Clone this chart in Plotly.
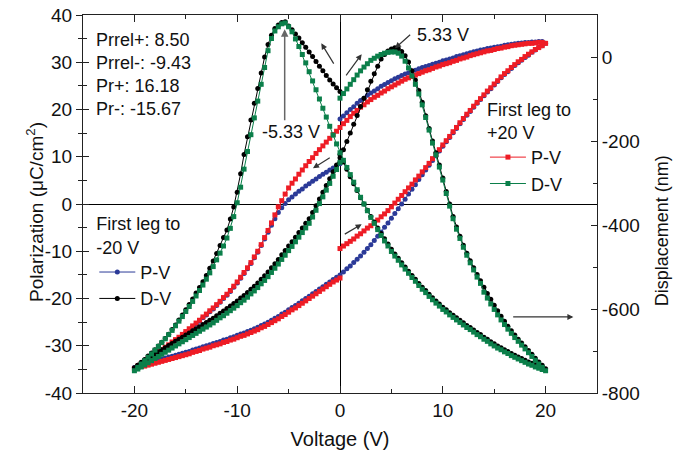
import numpy as np
import plotly.graph_objects as go

STEP_PER_V = 3  # measurement step 1/3 V

def sweep(a, b):
    n = int(round(abs(b - a) * STEP_PER_V)) + 1
    return np.linspace(a, b, n)

# ---------------- tick labels ----------------
x_ticks = [-20, -10, 0, 10, 20]
x_ticklabels = ["-20", "-10", "0", "10", "20"]
p_ticks = [-40, -30, -20, -10, 0, 10, 20, 30, 40]
p_ticklabels = ["-40", "-30", "-20", "-10", "0", "10", "20", "30", "40"]
d_ticks = [-800, -600, -400, -200, 0]
d_ticklabels = ["-800", "-600", "-400", "-200", "0"]

# ---------------- Polarization (uC/cm2) ----------------
# first leg to -20 V (blue): 0 -> -20 -> +20 -> 0
blue_start_p = [8.5, 8.1, 7.6, 7.2, 6.7, 6.3, 5.8, 5.3, 4.8, 4.3, 3.8, 3.2, 2.7, 2.1, 1.5,
                0.9, 0.1, -0.8, -1.8, -3.1, -4.5, -6.0, -7.4, -8.8, -10.2, -11.4, -12.6,
                -13.7, -14.7, -15.7, -16.7, -17.6, -18.5, -19.3, -20.0, -20.8, -21.5, -22.2,
                -22.8, -23.5, -24.1, -24.8, -25.4, -26.0, -26.6, -27.2, -27.8, -28.4, -28.9,
                -29.4, -30.0, -30.5, -31.0, -31.5, -32.0, -32.5, -33.0, -33.5, -33.9, -34.3, -34.6]
lower_p = [-34.4, -34.2, -34.0, -33.8, -33.6, -33.4, -33.2, -33.0, -32.8, -32.6, -32.4, -32.2,
           -32.0, -31.8, -31.6, -31.4, -31.2, -30.9, -30.7, -30.5, -30.2, -30.0, -29.8, -29.5,
           -29.3, -29.1, -28.8, -28.6, -28.3, -28.1, -27.8, -27.5, -27.3, -27.0, -26.7, -26.4,
           -26.1, -25.7, -25.4, -25.0, -24.6, -24.2, -23.8, -23.3, -22.9, -22.4, -21.9, -21.5,
           -21.0, -20.5, -20.0, -19.5, -19.0, -18.5, -18.0, -17.5, -17.0, -16.5, -16.0, -15.5,
           -15.0, -14.4, -13.7, -13.1, -12.4, -11.7, -11.0, -10.2, -9.4, -8.6, -7.7, -6.8,
           -5.9, -4.9, -4.0, -3.0, -2.0, -1.0, 0.0, 1.0, 2.1, 3.1, 4.1, 5.2,
           6.2, 7.2, 8.2, 9.2, 10.2, 11.2, 12.2, 13.2, 14.1, 15.1, 16.0, 17.0,
           17.9, 18.8, 19.6, 20.5, 21.3, 22.1, 22.9, 23.7, 24.4, 25.2, 25.9, 26.7,
           27.4, 28.0, 28.7, 29.3, 29.9, 30.4, 31.0, 31.5, 32.1, 32.6, 33.1, 33.5, 34.0]
blue_upper_p = [34.5, 34.4, 34.4, 34.3, 34.3, 34.2, 34.2, 34.1, 34.0, 33.9, 33.8, 33.7,
                33.6, 33.4, 33.3, 33.2, 33.0, 32.9, 32.7, 32.6, 32.4, 32.2, 32.0, 31.8,
                31.6, 31.4, 31.2, 30.9, 30.7, 30.5, 30.3, 30.0, 29.8, 29.6, 29.3, 29.1,
                28.9, 28.6, 28.3, 28.1, 27.8, 27.5, 27.2, 26.8, 26.5, 26.1, 25.7, 25.3,
                24.9, 24.4, 23.9, 23.5, 23.0, 22.4, 21.9, 21.3, 20.6, 20.0, 19.3, 18.6, 18.0]

# first leg to +20 V (red): 0 -> +20 -> -20 -> 0
red_start_p = [-9.43, -8.9, -8.4, -7.9, -7.4, -6.8, -6.3, -5.7, -5.1, -4.6, -4.0, -3.4,
               -2.7, -2.1, -1.4, -0.6, 0.2, 1.0, 1.8, 2.6, 3.4, 4.2, 5.1, 5.9,
               6.8, 7.7, 8.6, 9.6, 10.5, 11.5, 12.5, 13.4, 14.3, 15.3, 16.2, 17.2,
               18.1, 19.0, 19.8, 20.7, 21.5, 22.3, 23.1, 23.9, 24.6, 25.4, 26.1, 26.9,
               27.6, 28.2, 28.9, 29.5, 30.1, 30.6, 31.2, 31.7, 32.2, 32.7, 33.1, 33.5, 34.0]
upper_p = [34.3, 34.2, 34.2, 34.1, 34.0, 34.0, 33.9, 33.8, 33.7, 33.6, 33.5, 33.3,
           33.2, 33.0, 32.9, 32.7, 32.5, 32.4, 32.2, 32.0, 31.8, 31.6, 31.4, 31.1,
           30.9, 30.7, 30.4, 30.2, 29.9, 29.7, 29.5, 29.2, 29.0, 28.7, 28.4, 28.2,
           27.9, 27.6, 27.3, 27.0, 26.7, 26.4, 26.0, 25.6, 25.2, 24.8, 24.4, 23.9,
           23.5, 23.0, 22.6, 22.1, 21.6, 21.0, 20.5, 19.8, 19.2, 18.5, 17.7, 17.0,
           16.2, 15.4, 14.7, 13.9, 13.1, 12.3, 11.5, 10.7, 9.8, 9.0, 8.1, 7.2,
           6.3, 5.3, 4.4, 3.4, 2.1, 0.7, -0.6, -2.3, -4.0, -5.6, -7.1, -8.6,
           -10.0, -11.2, -12.4, -13.5, -14.5, -15.5, -16.5, -17.4, -18.3, -19.1, -19.8, -20.6,
           -21.3, -22.0, -22.6, -23.3, -23.9, -24.6, -25.2, -25.8, -26.4, -27.0, -27.6, -28.2,
           -28.7, -29.2, -29.8, -30.3, -30.8, -31.3, -31.8, -32.3, -32.8, -33.3, -33.8, -34.3, -34.8]
red_lower_p = [-34.8, -34.6, -34.4, -34.3, -34.1, -33.9, -33.7, -33.5, -33.3, -33.1, -32.9, -32.7,
               -32.5, -32.3, -32.1, -31.9, -31.7, -31.4, -31.2, -31.0, -30.7, -30.5, -30.3, -30.0,
               -29.8, -29.6, -29.3, -29.1, -28.8, -28.6, -28.3, -28.0, -27.8, -27.5, -27.2, -26.9,
               -26.6, -26.2, -25.9, -25.5, -25.1, -24.7, -24.3, -23.8, -23.4, -22.9, -22.4, -22.0,
               -21.5, -21.0, -20.5, -20.0, -19.5, -19.0, -18.5, -18.0, -17.5, -17.0, -16.5, -16.1, -15.67]

# ---------------- Displacement (nm) ----------------
# first leg to -20 V (black): 0 -> -20 -> +20 -> 0
black_start_d = [-82, -73, -64, -55, -44, -33, -22, -11, 1, 12, 23, 34, 45, 55, 65,
                 74, 84, 82, 76, 68, 52, 30, 0, -38, -75, -110, -150, -190, -232, -278,
                 -322, -357, -386, -412, -430, -449, -468, -486, -503, -520, -535, -549,
                 -562, -576, -589, -602, -614, -626, -638, -649, -660, -670, -679, -688,
                 -697, -705, -712, -720, -727, -734, -740]
black_mid_d = [-740, -734, -728, -722, -717, -712, -707, -702, -697, -692, -687, -682,
               -677, -672, -667, -662, -657, -652, -647, -642, -637, -632, -627, -622,
               -616, -610, -605, -599, -593, -587, -581, -574, -568, -561, -553, -546,
               -538, -529, -521, -512, -502, -492, -482, -471, -461, -450, -440, -429,
               -418, -407, -396, -385, -370, -354, -338, -322, -306, -290, -273, -257,
               -240, -221, -201, -181, -160, -139, -118, -98, -78, -58, -40, -22,
               -5, 6, 14, 19, 22, 20, 13, 3, -12, -33, -55, -80,
               -108, -140, -170, -200, -228, -257, -288, -320, -350, -380, -405, -427,
               -448, -467, -485, -502, -518, -533, -548, -563, -577, -591, -604, -617,
               -629, -641, -652, -662, -672, -681, -690, -699, -708, -717, -726, -734, -742]
black_ret_d = [-742, -739, -736, -733, -729, -726, -722, -718, -714, -710, -706, -701,
               -697, -692, -688, -683, -678, -672, -667, -661, -656, -650, -644, -639,
               -633, -627, -621, -615, -609, -602, -596, -588, -581, -573, -565, -556,
               -548, -539, -529, -520, -510, -500, -490, -479, -469, -458, -445, -433,
               -420, -407, -393, -380, -365, -350, -335, -318, -302, -285, -267, -250, -232]

# first leg to +20 V (green): 0 -> +20 -> -20 -> 0
green_start_d = [-98, -87, -76, -65, -54, -43, -33, -24, -16, -8, -3, 2, 6, 9, 11,
                 12, 12, 9, 2, -10, -26, -45, -65, -88, -114, -144, -174, -205, -233, -262,
                 -293, -325, -355, -385, -410, -432, -453, -472, -490, -507, -524, -539,
                 -560, -574, -588, -601, -614, -626, -637, -648, -658, -668, -677, -686,
                 -695, -704, -713, -722, -731, -739, -747]
green_mid_d = [-747, -744, -741, -738, -734, -731, -727, -723, -719, -715, -711, -706,
               -702, -697, -693, -688, -683, -677, -672, -666, -661, -655, -649, -644,
               -638, -632, -626, -620, -614, -607, -601, -593, -586, -578, -570, -561,
               -553, -544, -534, -525, -515, -505, -495, -484, -474, -463, -450, -438,
               -425, -411, -396, -382, -366, -350, -334, -316, -298, -280, -263, -246,
               -228, -207, -186, -165, -143, -122, -100, -78, -57, -35, -14, 6,
               25, 43, 60, 72, 81, 79, 72, 62, 44, 15, -25, -65,
               -105, -145, -185, -225, -267, -310, -347, -380, -408, -431, -450, -467,
               -483, -499, -514, -529, -543, -556, -569, -582, -594, -606, -618, -629,
               -640, -651, -661, -671, -680, -689, -698, -707, -715, -723, -731, -739, -747]
green_ret_d = [-747, -743, -738, -733, -728, -723, -718, -713, -708, -703, -698, -693,
               -688, -683, -678, -673, -668, -663, -658, -653, -648, -643, -638, -633,
               -627, -621, -616, -610, -604, -598, -592, -585, -579, -572, -564, -557,
               -549, -540, -532, -523, -513, -503, -493, -482, -472, -461, -451, -440,
               -429, -418, -407, -396, -381, -365, -349, -333, -317, -301, -284, -268, -251]

remanence_lines = ["Prrel+: 8.50", "Prrel-: -9.43", "Pr+: 16.18", "Pr-: -15.67"]

# ---------------- assemble sweeps ----------------
def join(*parts):
    vs, ys = [], []
    for i, (v, y) in enumerate(parts):
        assert len(v) == len(y), (len(v), len(y))
        if i == 0:
            vs.extend(v); ys.extend(y)
        else:
            vs.extend(v[1:]); ys.extend(y[1:])
    return vs, ys

v_blue, p_blue = join((sweep(0, -20), blue_start_p), (sweep(-20, 20), lower_p), (sweep(20, 0), blue_upper_p))
v_red, p_red = join((sweep(0, 20), red_start_p), (sweep(20, -20), upper_p), (sweep(-20, 0), red_lower_p))
v_black, d_black = join((sweep(0, -20), black_start_d), (sweep(-20, 20), black_mid_d), (sweep(20, 0), black_ret_d))
v_green, d_green = join((sweep(0, 20), green_start_d), (sweep(20, -20), green_mid_d), (sweep(-20, 0), green_ret_d))

BLUE = "#2B3A98"
BLACK = "#000000"
RED = "#EE1C25"
GREEN = "#0B7F4A"
FONT = "Arial, Liberation Sans, sans-serif"

fig = go.Figure()
fig.add_trace(go.Scatter(x=v_blue, y=p_blue, mode="lines+markers", name="P-V", legend="legend",
                         line=dict(color=BLUE, width=1), marker=dict(symbol="circle", size=5, color=BLUE)))
fig.add_trace(go.Scatter(x=v_black, y=d_black, mode="lines+markers", name="D-V", legend="legend", yaxis="y2",
                         line=dict(color=BLACK, width=1), marker=dict(symbol="circle", size=5, color=BLACK)))
fig.add_trace(go.Scatter(x=v_red, y=p_red, mode="lines+markers", name="P-V", legend="legend2",
                         line=dict(color=RED, width=1), marker=dict(symbol="square", size=5, color=RED)))
fig.add_trace(go.Scatter(x=v_green, y=d_green, mode="lines+markers", name="D-V", legend="legend2", yaxis="y2",
                         line=dict(color=GREEN, width=1), marker=dict(symbol="square", size=5, color=GREEN)))
# helper trace so the inward-tick overlay axis is drawn
fig.add_trace(go.Scatter(x=[None], y=[None], yaxis="y3", showlegend=False, hoverinfo="skip"))

AX = "#222222"
tickfont = dict(family=FONT, size=19, color="#111")

fig.update_layout(
    width=685, height=466,
    margin=dict(l=83, r=88, t=15, b=73),
    paper_bgcolor="white", plot_bgcolor="white",
    font=dict(family=FONT, size=18, color="#111"),
    xaxis=dict(range=[-25, 25], tickvals=x_ticks, ticktext=x_ticklabels, ticks="inside", ticklen=7,
               tickcolor=AX, showline=True, linecolor=AX, linewidth=1, mirror="ticks",
               showgrid=False, zeroline=True, zerolinecolor=BLACK, zerolinewidth=1, automargin=False,
               minor=dict(tickvals=[-15, -5, 5, 15], ticks="inside", ticklen=4, tickcolor=AX),
               tickfont=tickfont,
               title=dict(text="Voltage (V)", font=dict(family=FONT, size=20), standoff=12)),
    yaxis=dict(range=[-40, 40], tickvals=p_ticks, ticktext=p_ticklabels, ticks="outside", ticklen=6,
               tickcolor=AX, showline=True, linecolor=AX, linewidth=1, showgrid=False, automargin=False,
               zeroline=True, zerolinecolor=BLACK, zerolinewidth=1,
               minor=dict(dtick=5, ticks="outside", ticklen=4, tickcolor=AX),
               tickfont=tickfont),
    yaxis3=dict(range=[-40, 40], dtick=10, overlaying="y", side="left", ticks="inside", ticklen=6,
                tickcolor=AX, showticklabels=False, showline=False, showgrid=False, zeroline=False,
                automargin=False, minor=dict(dtick=5, ticks="inside", ticklen=4, tickcolor=AX)),
    yaxis2=dict(range=[-800, 100], tickvals=d_ticks, ticktext=d_ticklabels, overlaying="y", side="right",
                ticks="inside", ticklen=6, tickcolor=AX, showline=True, linecolor=AX, linewidth=1,
                showgrid=False, zeroline=False, automargin=False,
                minor=dict(dtick=100, ticks="inside", ticklen=4, tickcolor=AX),
                tickfont=tickfont),
    legend=dict(x=0.022, y=0.492, xanchor="left", yanchor="top", bgcolor="rgba(0,0,0,0)",
                font=dict(family=FONT, size=18), tracegroupgap=0, itemwidth=36,
                title=dict(text="First leg to<br>-20 V", font=dict(family=FONT, size=18))),
    legend2=dict(x=0.782, y=0.796, xanchor="left", yanchor="top", bgcolor="rgba(0,0,0,0)",
                 font=dict(family=FONT, size=18), tracegroupgap=0, itemwidth=36,
                 title=dict(text="First leg to<br>+20 V", font=dict(family=FONT, size=18))),
    showlegend=True,
)

# y-axis titles placed as rotated labels
fig.add_annotation(x=-0.0934, y=0.479, xref="paper", yref="paper", xanchor="center", yanchor="middle",
                   textangle=-90, showarrow=False, font=dict(family=FONT, size=19),
                   text="Polarization (\u03bcC/cm<sup>2</sup>)")
fig.add_annotation(x=1.128, y=0.43, xref="paper", yref="paper", xanchor="center", yanchor="middle",
                   textangle=-90, showarrow=False, font=dict(family=FONT, size=18),
                   text="Displacement (nm)")

ARROW = "#333333"
def arrow(x0, y0, x1, y1, width=1.2, color=ARROW):
    fig.add_annotation(x=x1, y=y1, ax=x0, ay=y0, xref="x", yref="y", axref="x", ayref="y",
                       text="", showarrow=True, arrowhead=2, arrowsize=1, arrowwidth=width,
                       arrowcolor=color)

# direction arrows
arrow(-0.52, 29.4, -1.82, 34.0)
arrow(0.49, 26.9, 2.11, 31.7)
arrow(-0.85, 10.0, -2.63, 7.56)
arrow(0.32, -6.56, 2.11, -4.3)
arrow(16.7, -23.9, 22.7, -23.9)
# peak markers
arrow(6.97, 36.1, 5.35, 32.95)
arrow(-5.38, 17.4, -5.38, 37.0, width=1.5, color="#666666")

fig.add_annotation(x=7.3, y=35.8, xref="x", yref="y", text="5.33 V", showarrow=False,
                   xanchor="left", yanchor="middle", font=dict(family=FONT, size=18))
fig.add_annotation(x=-4.77, y=15.3, xref="x", yref="y", text="-5.33 V", showarrow=False,
                   xanchor="center", yanchor="middle", font=dict(family=FONT, size=18))
for i, line in enumerate(remanence_lines):
    fig.add_annotation(x=0.022, y=0.934 - i * 0.0605, xref="paper", yref="paper", xanchor="left",
                       yanchor="middle", align="left", showarrow=False,
                       font=dict(family=FONT, size=18), text=line)

fig.write_html("out.html", config={"displayModeBar": False},
               post_script="document.body.style.margin='0';")
